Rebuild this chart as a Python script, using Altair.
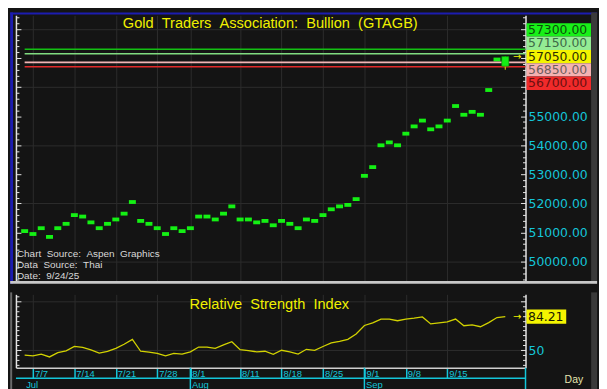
import altair as alt
import pandas as pd

# ---------------- data ----------------
days = ["7/4", "7/7", "7/8", "7/9", "7/10", "7/11", "7/14", "7/15", "7/16", "7/17", "7/18",
        "7/21", "7/22", "7/23", "7/24", "7/25", "7/28", "7/29", "7/30", "7/31",
        "8/1", "8/4", "8/5", "8/6", "8/7", "8/8", "8/11", "8/12", "8/13", "8/14", "8/15",
        "8/18", "8/19", "8/20", "8/21", "8/22", "8/25", "8/26", "8/27", "8/28", "8/29",
        "9/1", "9/2", "9/3", "9/4", "9/5", "9/8", "9/9", "9/10", "9/11", "9/12",
        "9/15", "9/16", "9/17", "9/18", "9/19", "9/22", "9/23", "9/24"]
close = [51050, 50950, 51150, 50850, 51150, 51300, 51600, 51550, 51350, 51150, 51300,
         51450, 51650, 52050, 51400, 51300, 51150, 50950, 51150, 51050,
         51150, 51550, 51550, 51450, 51650, 51900, 51450, 51450, 51350, 51400, 51250,
         51400, 51300, 51150, 51450, 51400, 51600, 51800, 51900, 51950, 52150,
         52950, 53250, 54000, 54100, 54000, 54400, 54650, 54850, 54550, 54650,
         54850, 55350, 55050, 55150, 55050, 55900, 56950, 57050]
rsi = [44.9, 44.0, 45.9, 43.0, 47.3, 49.2, 53.7, 52.7, 50.2, 46.9, 48.8,
       51.8, 56.0, 60.9, 48.8, 47.9, 46.6, 44.0, 46.6, 45.9,
       48.2, 53.1, 53.1, 51.8, 55.4, 58.6, 50.5, 49.5, 48.2, 48.8, 45.6,
       49.8, 48.2, 45.9, 50.8, 49.8, 53.7, 57.3, 59.0, 61.0, 66.5,
       75.2, 77.8, 81.7, 81.7, 80.0, 81.7, 82.7, 83.9, 76.8, 77.8,
       78.8, 81.7, 74.9, 75.8, 73.9, 78.1, 83.3, 84.21]
last_open = 56720
last_low = 56600
levels = [57300, 57150, 56850, 56700]
axis_dates = ["7/7", "7/14", "7/21", "7/28", "8/1", "8/11", "8/18", "8/25", "9/1", "9/8", "9/15"]
month_names = ["Jul", "Aug", "Sep"]
month_first = ["7/4", "8/1", "9/1"]
title_text = "Gold Traders Association: Bullion (GTAGB)"
rsi_title = "Relative Strength Index"
source_lines = ["Chart Source: Aspen Graphics", "Data Source: Thai", "Date: 9/24/25"]
period_label = "Day"

# ---------------- styles / layout ----------------
SX = 591 / 607
SY = 373 / 389
W = 527 * SX
H1 = 279 * SY
H2 = 77 * SY
BG = "#141414"
GRID = "#2c2c2c"
CYAN = "#14c6da"
YEL = "#f0f000"
WHITE = "#e4e4e4"
GREEN = "#14f014"
FONT = "Liberation Sans"
NUM_FONT = "DejaVu Sans"
LBL = 12.5
level_line_colors = ["#12c012", "#80dc80", "#f2b6b6", "#e22a2a"]
box_fills = ["#18f018", "#94ec94", "#f4f400", "#f4b2b2", "#f02a2a"]
box_texts = ["#0b4d0b", "#3e6a48", "#2e2e00", "#6e5e5e", "#6a1010"]
BOX_H = 14 * SY

Y_DOM = [49335, 58470]


def wide(s):
    # the source chart draws its captions with wide word gaps
    return s.replace(" ", " \u00a0")


n = len(days)
df = pd.DataFrame({"idx": list(range(n)), "day": days, "close": close, "rsi": rsi})
tick_idx = [days.index(d) for d in axis_dates]
days_js = "[" + ",".join("'" + d + "'" for d in days) + "]"

xs = alt.Scale(domain=[-1.05, 60.44], nice=False, zero=False)
ys = alt.Scale(domain=Y_DOM, nice=False, zero=False)
rs = alt.Scale(domain=[32, 107], nice=False, zero=False)


def cond(test, a, b):
    return {"condition": {"test": test, "value": a}, "value": b}


# price labels that sit under the stacked level boxes are covered in the source
units_per_px = (Y_DOM[1] - Y_DOM[0]) / H1
box_floor = close[-1] - 2.5 * BOX_H * units_per_px

# ---------------- axes ----------------
x_top_axis = alt.Axis(values=tick_idx, grid=True, gridColor=GRID, labels=False, ticks=False,
                      domain=False, title=None)
x_bot_axis = alt.Axis(values=tick_idx, labelExpr=days_js + "[datum.value]", grid=True, gridColor=GRID,
                      labelColor=CYAN, labelFont=FONT, labelFontSize=9.5, labelAlign="left",
                      labelBaseline="middle", labelPadding=-4.7, labelOffset=1.5, labelOverlap=False,
                      labelFlush=False, tickColor=CYAN, tickSize=10.5, tickWidth=1.5,
                      domain=True, domainColor="#cfcfcf", domainWidth=1.5, title=None)

minor_vals = list(range(49400, 58401, 200))
ax_price_lbl = alt.Axis(orient="right", values=list(range(50000, 58001, 1000)),
                        labelExpr=f"datum.value < {box_floor} ? format(datum.value, '.2f') : ''",
                        labelColor=CYAN, labelFont=NUM_FONT, labelFontSize=LBL, labelPadding=2.5,
                        labelOverlap=False, ticks=False, domain=True, domainColor=WHITE, domainWidth=1.5,
                        grid=True, gridColor=GRID, gridOpacity=cond("datum.value % 2000 === 0", 1, 0),
                        title=None)
ax_price_in_r = alt.Axis(orient="left", offset=-W, values=minor_vals, labels=False, domain=False,
                         grid=False, tickColor=WHITE, tickWidth=1,
                         tickSize=cond("datum.value % 1000 === 0", 5, 3), title=None)
ax_price_in_l = alt.Axis(orient="right", offset=-W, values=minor_vals, labels=False, domain=True,
                         domainColor=WHITE, domainWidth=1.5, grid=False, tickColor=WHITE, tickWidth=1,
                         tickSize=cond("datum.value % 1000 === 0", 5, 3), title=None)

rsi_minor = list(range(35, 106, 5))
ax_rsi_lbl = alt.Axis(orient="right", values=[50, 100], labelExpr="datum.value === 50 ? '50' : ''",
                      labelColor=CYAN, labelFont=NUM_FONT, labelFontSize=LBL, labelPadding=2.5,
                      ticks=False, domain=True, domainColor=WHITE, domainWidth=1.5,
                      grid=True, gridColor=GRID, title=None)
ax_rsi_in_r = alt.Axis(orient="left", offset=-W, values=rsi_minor, labels=False, domain=False, grid=False,
                       tickColor=WHITE, tickWidth=1, tickSize=cond("datum.value % 50 === 0", 5, 3), title=None)
ax_rsi_in_l = alt.Axis(orient="right", offset=-W, values=rsi_minor, labels=False, domain=True,
                       domainColor=WHITE, domainWidth=1.5, grid=False, tickColor=WHITE, tickWidth=1,
                       tickSize=cond("datum.value % 50 === 0", 5, 3), title=None)

# ---------------- top panel ----------------
dash = alt.Chart(df).transform_filter(f"datum.idx < {n - 1}").transform_calculate(
    x0="datum.idx - 0.42", x1="datum.idx + 0.42"
).mark_rule(color=GREEN, strokeWidth=4 * SY, strokeCap="butt").encode(
    x=alt.X("x0:Q", scale=xs, axis=x_top_axis),
    x2="x1:Q",
    y=alt.Y("close:Q", scale=ys, axis=ax_price_lbl),
)

lev_df = pd.DataFrame({"level": levels, "lc": level_line_colors})
lev = alt.Chart(lev_df).mark_rule(strokeWidth=1.6).encode(
    x=alt.XDatum(int(df.idx.iloc[0]), scale=xs, axis=x_top_axis),
    x2=alt.value(W),
    y=alt.Y("level:Q", scale=ys, axis=ax_price_in_r),
    color=alt.Color("lc:N", scale=None),
)

cdf = pd.DataFrame({"idx": [n - 1], "open": [last_open], "close": [close[-1]], "low": [last_low]})
wick = alt.Chart(cdf).mark_rule(color="#c8c800", strokeWidth=1.2).encode(
    x=alt.X("idx:Q", scale=xs, axis=x_top_axis),
    y=alt.Y("low:Q", scale=ys, axis=ax_price_in_l),
    y2="close:Q",
)
body = alt.Chart(cdf).transform_calculate(x0="datum.idx - 0.43", x1="datum.idx + 0.43").mark_rect(
    color=GREEN, stroke="#0a8a0a", strokeWidth=0.6
).encode(
    x=alt.X("x0:Q", scale=xs, axis=x_top_axis),
    x2="x1:Q",
    y=alt.Y("open:Q", scale=ys, axis=None),
    y2="close:Q",
)

arrow_top = alt.Chart(pd.DataFrame({"t": ["→"]})).mark_text(
    color=YEL, font="DejaVu Sans", fontSize=10, align="center", baseline="middle"
).encode(x=alt.value(W - 8.3), y=alt.YDatum(close[-1], scale=ys, axis=None), text="t:N")

box_vals = levels[:2] + [close[-1]] + levels[2:]
box_layers = []
for k, (v, fc, tc) in enumerate(zip(box_vals, box_fills, box_texts)):
    off = (k - 2) * BOX_H
    box_layers.append(
        alt.Chart(pd.DataFrame({"v": [v]})).mark_rule(color=fc, strokeWidth=BOX_H, strokeCap="butt",
                                                       yOffset=off).encode(
            x=alt.value(W + 1), x2=alt.value(W + 66), y=alt.YDatum(close[-1], scale=ys, axis=None))
    )
    box_layers.append(
        alt.Chart(pd.DataFrame({"t": [f"{v:.2f}"]})).mark_text(
            color=tc, font=NUM_FONT, fontSize=LBL, align="left", baseline="middle", yOffset=off
        ).encode(x=alt.value(W + 2.5), y=alt.YDatum(close[-1], scale=ys, axis=None), text="t:N")
    )

title_layer = alt.Chart(pd.DataFrame({"t": [wide(title_text)]})).mark_text(
    color=YEL, font=FONT, fontSize=14.7, align="center", baseline="middle"
).encode(x=alt.value(256.1), y=alt.value(8.6), text="t:N")

src_layers = []
for j, line in enumerate(source_lines):
    src_layers.append(
        alt.Chart(pd.DataFrame({"t": [wide(line)]})).mark_text(
            color="#d8d8d8", font=FONT, fontSize=10, align="left", baseline="middle"
        ).encode(x=alt.value(1.0), y=alt.value(240.7 + j * 11.0), text="t:N")
    )

frame_top = [
    alt.Chart(pd.DataFrame({"a": [0]})).mark_rule(color="#1c1cb0", strokeWidth=2).encode(
        x=alt.value(-5.8), x2=alt.value(W + 72.1), y=alt.value(-1.9)),
    alt.Chart(pd.DataFrame({"a": [0]})).mark_rule(color="#1c1cb0", strokeWidth=2.9).encode(
        x=alt.value(-4.35), y=alt.value(-2.9), y2=alt.value(H1 + 2.9)),
    alt.Chart(pd.DataFrame({"a": [0]})).mark_rule(color="#3a3a3a", strokeWidth=6).encode(
        x=alt.value(W + 69.1), y=alt.value(-2.9), y2=alt.value(H1 + 2.9)),
    alt.Chart(pd.DataFrame({"a": [0]})).mark_rule(color="#c8c8c8", strokeWidth=2.9).encode(
        x=alt.value(-5.8), x2=alt.value(W + 72.1), y=alt.value(H1 + 1.45)),
]

top = alt.layer(
    dash, lev, wick, body, arrow_top, *box_layers, title_layer, *src_layers, *frame_top
).resolve_axis(y="independent").properties(width=W, height=H1)

# ---------------- RSI panel ----------------
rsi_line = alt.Chart(df).mark_line(color="#d2d200", strokeWidth=1.3).encode(
    x=alt.X("idx:Q", scale=xs, axis=x_bot_axis),
    y=alt.Y("rsi:Q", scale=rs, axis=ax_rsi_lbl),
)
rsi_box = alt.Chart(pd.DataFrame({"a": [0]})).mark_rule(color="#f4f400", strokeWidth=15 * SY,
                                                        strokeCap="butt").encode(
    x=alt.value(W + 1), x2=alt.value(W + 41), y=alt.YDatum(rsi[-1], scale=rs, axis=ax_rsi_in_r))
rsi_txt = alt.Chart(pd.DataFrame({"t": [f"{rsi[-1]:.2f}"]})).mark_text(
    color="#1a1a00", font=NUM_FONT, fontSize=LBL, align="left", baseline="middle"
).encode(x=alt.value(W + 2.5), y=alt.YDatum(rsi[-1], scale=rs, axis=ax_rsi_in_l), text="t:N")
rsi_arrow = alt.Chart(pd.DataFrame({"t": ["→"]})).mark_text(
    color=YEL, font="DejaVu Sans", fontSize=10, align="center", baseline="middle"
).encode(x=alt.value(W - 8.3), y=alt.YDatum(rsi[-1], scale=rs, axis=None), text="t:N")
rsi_title_layer = alt.Chart(pd.DataFrame({"t": [wide(rsi_title)]})).mark_text(
    color=YEL, font=FONT, fontSize=14.7, align="center", baseline="middle"
).encode(x=alt.value(255.1), y=alt.value(10.6), text="t:N")
day_layer = alt.Chart(pd.DataFrame({"t": [period_label]})).mark_text(
    color="#e6e6b0", font=FONT, fontSize=10.5, align="center", baseline="middle"
).encode(x=alt.value(W + 48.7), y=alt.value(H2 + 12.5), text="t:N")

mdf = pd.DataFrame({"m": month_names, "idx": [days.index(s) for s in month_first]})
m_text = alt.Chart(mdf).mark_text(color=CYAN, font=FONT, fontSize=9.5, align="left",
                                  baseline="middle", dx=1.5).encode(
    x=alt.X("idx:Q", scale=xs, axis=x_bot_axis), y=alt.value(H2 + 17.3), text="m:N")
m_rule = alt.Chart(mdf).transform_filter("datum.idx > 0").mark_rule(color=CYAN, strokeWidth=1.5).encode(
    x=alt.X("idx:Q", scale=xs, axis=x_bot_axis), y=alt.value(H2), y2=alt.value(H2 + 24))

frame_bot = [
    alt.Chart(pd.DataFrame({"a": [0]})).mark_rule(color=CYAN, strokeWidth=1.5).encode(
        x=alt.value(0), x2=alt.value(W), y=alt.value(H2 + 10.6)),
    alt.Chart(pd.DataFrame({"a": [0]})).mark_rule(color=CYAN, strokeWidth=1.5).encode(
        x=alt.value(W), y=alt.value(H2), y2=alt.value(H2 + 24)),
    alt.Chart(pd.DataFrame({"a": [0]})).mark_rule(color="#6a6a6a", strokeWidth=2).encode(
        x=alt.value(-4.8), y=alt.value(-2), y2=alt.value(H2 + 24)),
    alt.Chart(pd.DataFrame({"a": [0]})).mark_rule(color="#3a3a3a", strokeWidth=6).encode(
        x=alt.value(W + 69.1), y=alt.value(-2), y2=alt.value(H2 + 24)),
]

bottom = alt.layer(
    rsi_line, rsi_box, rsi_txt, rsi_arrow, rsi_title_layer, day_layer, m_text, m_rule, *frame_bot
).resolve_axis(y="independent").properties(width=W, height=H2)

chart = alt.vconcat(top, bottom, spacing=2).resolve_scale(
    x="independent", y="independent"
).properties(background=BG, padding=0).configure_view(stroke=None, fill=BG)

chart.save("out.html", embed_options={"renderer": "svg", "actions": False})
